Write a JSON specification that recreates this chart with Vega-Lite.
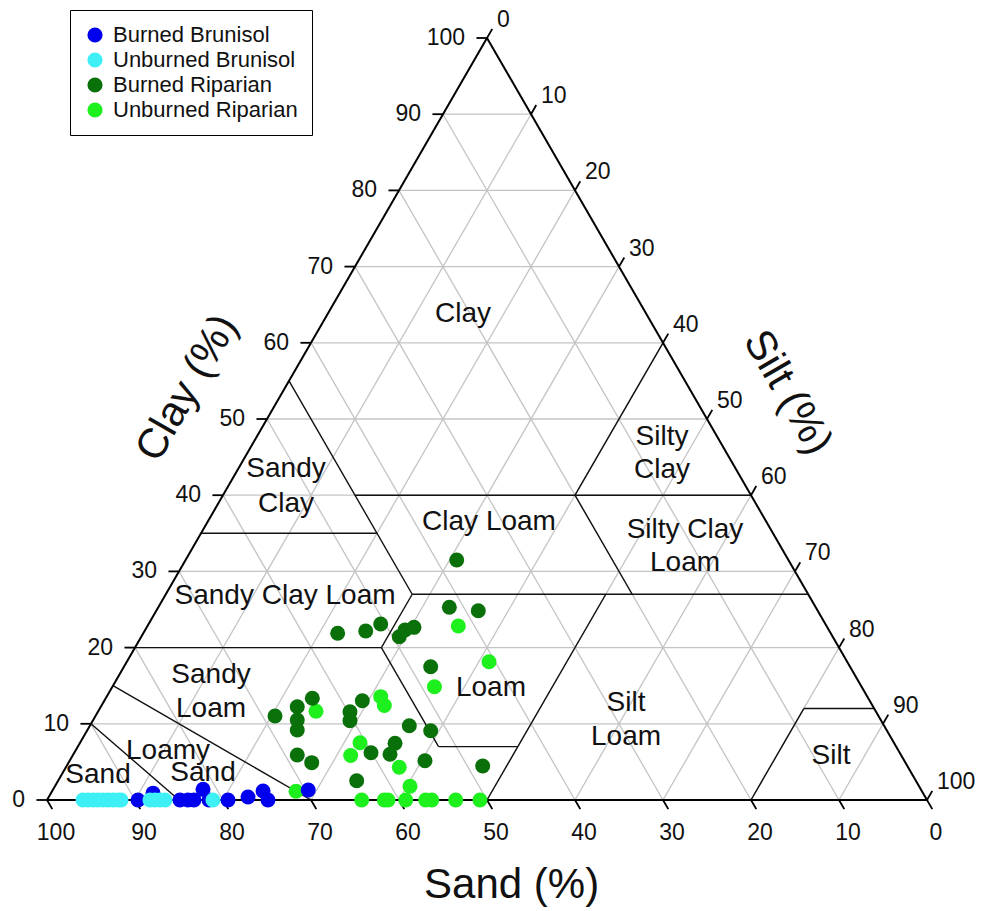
{
  "$schema": "https://vega.github.io/schema/vega-lite/v6.json",
  "width": 880,
  "height": 762,
  "autosize": "none",
  "padding": {"left": 47, "top": 38, "right": 55, "bottom": 111},
  "config": {
    "view": {"stroke": null},
    "font": "Liberation Sans",
    "text": {"font": "Liberation Sans"}
  },
  "datasets": {
    "grid": [
      {"x": 5, "y": 10, "x2": 95, "y2": 10},
      {"x": 10, "y": 20, "x2": 90, "y2": 20},
      {"x": 15, "y": 30, "x2": 85, "y2": 30},
      {"x": 20, "y": 40, "x2": 80, "y2": 40},
      {"x": 25, "y": 50, "x2": 75, "y2": 50},
      {"x": 30, "y": 60, "x2": 70, "y2": 60},
      {"x": 35, "y": 70, "x2": 65, "y2": 70},
      {"x": 40, "y": 80, "x2": 60, "y2": 80},
      {"x": 45, "y": 90, "x2": 55, "y2": 90},
      {"x": 90, "y": 0, "x2": 45, "y2": 90},
      {"x": 80, "y": 0, "x2": 40, "y2": 80},
      {"x": 70, "y": 0, "x2": 35, "y2": 70},
      {"x": 60, "y": 0, "x2": 30, "y2": 60},
      {"x": 50, "y": 0, "x2": 25, "y2": 50},
      {"x": 40, "y": 0, "x2": 20, "y2": 40},
      {"x": 30, "y": 0, "x2": 15, "y2": 30},
      {"x": 20, "y": 0, "x2": 10, "y2": 20},
      {"x": 10, "y": 0, "x2": 5, "y2": 10},
      {"x": 10, "y": 0, "x2": 55, "y2": 90},
      {"x": 20, "y": 0, "x2": 60, "y2": 80},
      {"x": 30, "y": 0, "x2": 65, "y2": 70},
      {"x": 40, "y": 0, "x2": 70, "y2": 60},
      {"x": 50, "y": 0, "x2": 75, "y2": 50},
      {"x": 60, "y": 0, "x2": 80, "y2": 40},
      {"x": 70, "y": 0, "x2": 85, "y2": 30},
      {"x": 80, "y": 0, "x2": 90, "y2": 20},
      {"x": 90, "y": 0, "x2": 95, "y2": 10}
    ],
    "bounds": [
      {"x": 15, "y": 0, "x2": 5, "y2": 10},
      {"x": 30, "y": 0, "x2": 7.5, "y2": 15},
      {"x": 10, "y": 20, "x2": 38, "y2": 20},
      {"x": 38, "y": 20, "x2": 44.5, "y2": 7},
      {"x": 44.5, "y": 7, "x2": 53.5, "y2": 7},
      {"x": 50, "y": 0, "x2": 63.5, "y2": 27},
      {"x": 38, "y": 20, "x2": 41.5, "y2": 27},
      {"x": 41.5, "y": 27, "x2": 86.5, "y2": 27},
      {"x": 41.5, "y": 27, "x2": 27.5, "y2": 55},
      {"x": 17.5, "y": 35, "x2": 37.5, "y2": 35},
      {"x": 35, "y": 40, "x2": 80, "y2": 40},
      {"x": 66.5, "y": 27, "x2": 60, "y2": 40},
      {"x": 60, "y": 40, "x2": 70, "y2": 60},
      {"x": 80, "y": 0, "x2": 86, "y2": 12},
      {"x": 86, "y": 12, "x2": 94, "y2": 12}
    ],
    "frame": [
      {"x": 0, "y": 0, "x2": 100, "y2": 0},
      {"x": 0, "y": 0, "x2": 50, "y2": 100},
      {"x": 100, "y": 0, "x2": 50, "y2": 100}
    ],
    "ticks": [
      {"x": 0, "y": 0, "x2": -1.2, "y2": 0},
      {"x": 5, "y": 10, "x2": 3.8, "y2": 10},
      {"x": 10, "y": 20, "x2": 8.8, "y2": 20},
      {"x": 15, "y": 30, "x2": 13.8, "y2": 30},
      {"x": 20, "y": 40, "x2": 18.8, "y2": 40},
      {"x": 25, "y": 50, "x2": 23.8, "y2": 50},
      {"x": 30, "y": 60, "x2": 28.8, "y2": 60},
      {"x": 35, "y": 70, "x2": 33.8, "y2": 70},
      {"x": 40, "y": 80, "x2": 38.8, "y2": 80},
      {"x": 45, "y": 90, "x2": 43.8, "y2": 90},
      {"x": 50, "y": 100, "x2": 48.8, "y2": 100},
      {"x": 0, "y": 0, "x2": 0.6, "y2": -1.2},
      {"x": 10, "y": 0, "x2": 10.6, "y2": -1.2},
      {"x": 20, "y": 0, "x2": 20.6, "y2": -1.2},
      {"x": 30, "y": 0, "x2": 30.6, "y2": -1.2},
      {"x": 40, "y": 0, "x2": 40.6, "y2": -1.2},
      {"x": 50, "y": 0, "x2": 50.6, "y2": -1.2},
      {"x": 60, "y": 0, "x2": 60.6, "y2": -1.2},
      {"x": 70, "y": 0, "x2": 70.6, "y2": -1.2},
      {"x": 80, "y": 0, "x2": 80.6, "y2": -1.2},
      {"x": 90, "y": 0, "x2": 90.6, "y2": -1.2},
      {"x": 100, "y": 0, "x2": 100.6, "y2": -1.2},
      {"x": 50, "y": 100, "x2": 50.6, "y2": 101.2},
      {"x": 55, "y": 90, "x2": 55.6, "y2": 91.2},
      {"x": 60, "y": 80, "x2": 60.6, "y2": 81.2},
      {"x": 65, "y": 70, "x2": 65.6, "y2": 71.2},
      {"x": 70, "y": 60, "x2": 70.6, "y2": 61.2},
      {"x": 75, "y": 50, "x2": 75.6, "y2": 51.2},
      {"x": 80, "y": 40, "x2": 80.6, "y2": 41.2},
      {"x": 85, "y": 30, "x2": 85.6, "y2": 31.2},
      {"x": 90, "y": 20, "x2": 90.6, "y2": 21.2},
      {"x": 95, "y": 10, "x2": 95.6, "y2": 11.2},
      {"x": 100, "y": 0, "x2": 100.6, "y2": 1.2}
    ],
    "ticklabels": [
      {"side": "left", "x": 0, "y": 0, "label": "0"},
      {"side": "left", "x": 5, "y": 10, "label": "10"},
      {"side": "left", "x": 10, "y": 20, "label": "20"},
      {"side": "left", "x": 15, "y": 30, "label": "30"},
      {"side": "left", "x": 20, "y": 40, "label": "40"},
      {"side": "left", "x": 25, "y": 50, "label": "50"},
      {"side": "left", "x": 30, "y": 60, "label": "60"},
      {"side": "left", "x": 35, "y": 70, "label": "70"},
      {"side": "left", "x": 40, "y": 80, "label": "80"},
      {"side": "left", "x": 45, "y": 90, "label": "90"},
      {"side": "left", "x": 50, "y": 100, "label": "100"},
      {"side": "bottom", "x": 0, "y": 0, "label": "100"},
      {"side": "bottom", "x": 10, "y": 0, "label": "90"},
      {"side": "bottom", "x": 20, "y": 0, "label": "80"},
      {"side": "bottom", "x": 30, "y": 0, "label": "70"},
      {"side": "bottom", "x": 40, "y": 0, "label": "60"},
      {"side": "bottom", "x": 50, "y": 0, "label": "50"},
      {"side": "bottom", "x": 60, "y": 0, "label": "40"},
      {"side": "bottom", "x": 70, "y": 0, "label": "30"},
      {"side": "bottom", "x": 80, "y": 0, "label": "20"},
      {"side": "bottom", "x": 90, "y": 0, "label": "10"},
      {"side": "bottom", "x": 100, "y": 0, "label": "0"},
      {"side": "right", "x": 50, "y": 100, "label": "0"},
      {"side": "right", "x": 55, "y": 90, "label": "10"},
      {"side": "right", "x": 60, "y": 80, "label": "20"},
      {"side": "right", "x": 65, "y": 70, "label": "30"},
      {"side": "right", "x": 70, "y": 60, "label": "40"},
      {"side": "right", "x": 75, "y": 50, "label": "50"},
      {"side": "right", "x": 80, "y": 40, "label": "60"},
      {"side": "right", "x": 85, "y": 30, "label": "70"},
      {"side": "right", "x": 90, "y": 20, "label": "80"},
      {"side": "right", "x": 95, "y": 10, "label": "90"},
      {"side": "right", "x": 100, "y": 0, "label": "100"}
    ],
    "regions": [
      {"x": 47.27, "y": 63.78, "label": "Clay"},
      {"x": 69.89, "y": 47.64, "label": "Silty"},
      {"x": 69.89, "y": 43.31, "label": "Clay"},
      {"x": 27.16, "y": 43.44, "label": "Sandy"},
      {"x": 27.16, "y": 38.85, "label": "Clay"},
      {"x": 50.23, "y": 36.42, "label": "Clay Loam"},
      {"x": 72.5, "y": 35.43, "label": "Silty Clay"},
      {"x": 72.5, "y": 31.1, "label": "Loam"},
      {"x": 27.05, "y": 26.77, "label": "Sandy Clay Loam"},
      {"x": 50.45, "y": 14.7, "label": "Loam"},
      {"x": 18.64, "y": 16.4, "label": "Sandy"},
      {"x": 18.64, "y": 11.94, "label": "Loam"},
      {"x": 65.8, "y": 12.73, "label": "Silt"},
      {"x": 65.8, "y": 8.27, "label": "Loam"},
      {"x": 13.75, "y": 6.43, "label": "Loamy"},
      {"x": 17.73, "y": 3.54, "label": "Sand"},
      {"x": 5.8, "y": 3.28, "label": "Sand"},
      {"x": 89.09, "y": 5.77, "label": "Silt"}
    ],
    "pts": [
      {"group": "Unburned Riparian", "x": 46.74, "y": 22.83},
      {"group": "Unburned Riparian", "x": 50.23, "y": 18.15},
      {"group": "Unburned Riparian", "x": 44.03, "y": 14.87},
      {"group": "Unburned Riparian", "x": 30.57, "y": 11.65},
      {"group": "Unburned Riparian", "x": 37.92, "y": 13.56},
      {"group": "Unburned Riparian", "x": 38.33, "y": 12.4},
      {"group": "Unburned Riparian", "x": 35.57, "y": 7.52},
      {"group": "Unburned Riparian", "x": 34.51, "y": 5.84},
      {"group": "Unburned Riparian", "x": 40.03, "y": 4.29},
      {"group": "Unburned Riparian", "x": 41.25, "y": 1.8},
      {"group": "Unburned Riparian", "x": 28.3, "y": 1.15},
      {"group": "Unburned Riparian", "x": 35.76, "y": 0},
      {"group": "Unburned Riparian", "x": 38.33, "y": 0},
      {"group": "Unburned Riparian", "x": 38.75, "y": 0},
      {"group": "Unburned Riparian", "x": 40.76, "y": 0},
      {"group": "Unburned Riparian", "x": 43.03, "y": 0},
      {"group": "Unburned Riparian", "x": 43.72, "y": 0},
      {"group": "Unburned Riparian", "x": 46.44, "y": 0},
      {"group": "Unburned Riparian", "x": 49.2, "y": 0},
      {"group": "Burned Riparian", "x": 46.56, "y": 31.5},
      {"group": "Burned Riparian", "x": 45.72, "y": 25.29},
      {"group": "Burned Riparian", "x": 49.01, "y": 24.84},
      {"group": "Burned Riparian", "x": 33.03, "y": 21.88},
      {"group": "Burned Riparian", "x": 36.22, "y": 22.18},
      {"group": "Burned Riparian", "x": 37.92, "y": 23.1},
      {"group": "Burned Riparian", "x": 40.03, "y": 21.43},
      {"group": "Burned Riparian", "x": 40.68, "y": 22.31},
      {"group": "Burned Riparian", "x": 41.7, "y": 22.66},
      {"group": "Burned Riparian", "x": 43.6, "y": 17.49},
      {"group": "Burned Riparian", "x": 30.15, "y": 13.35},
      {"group": "Burned Riparian", "x": 28.44, "y": 12.24},
      {"group": "Burned Riparian", "x": 25.91, "y": 11.02},
      {"group": "Burned Riparian", "x": 28.44, "y": 10.5},
      {"group": "Burned Riparian", "x": 28.44, "y": 9.19},
      {"group": "Burned Riparian", "x": 34.43, "y": 11.59},
      {"group": "Burned Riparian", "x": 35.83, "y": 13.03},
      {"group": "Burned Riparian", "x": 34.43, "y": 10.41},
      {"group": "Burned Riparian", "x": 28.44, "y": 5.91},
      {"group": "Burned Riparian", "x": 30.08, "y": 4.9},
      {"group": "Burned Riparian", "x": 41.17, "y": 9.75},
      {"group": "Burned Riparian", "x": 43.6, "y": 9.09},
      {"group": "Burned Riparian", "x": 36.82, "y": 6.21},
      {"group": "Burned Riparian", "x": 39.55, "y": 7.44},
      {"group": "Burned Riparian", "x": 38.98, "y": 6.0},
      {"group": "Burned Riparian", "x": 42.95, "y": 5.16},
      {"group": "Burned Riparian", "x": 49.51, "y": 4.46},
      {"group": "Burned Riparian", "x": 35.19, "y": 2.53},
      {"group": "Burned Brunisol", "x": 10.34, "y": 0},
      {"group": "Burned Brunisol", "x": 12.05, "y": 0.9},
      {"group": "Burned Brunisol", "x": 15.11, "y": 0},
      {"group": "Burned Brunisol", "x": 16.02, "y": 0},
      {"group": "Burned Brunisol", "x": 16.7, "y": 0},
      {"group": "Burned Brunisol", "x": 17.73, "y": 1.4},
      {"group": "Burned Brunisol", "x": 18.41, "y": 0},
      {"group": "Burned Brunisol", "x": 20.57, "y": 0},
      {"group": "Burned Brunisol", "x": 22.84, "y": 0.4},
      {"group": "Burned Brunisol", "x": 24.55, "y": 1.18},
      {"group": "Burned Brunisol", "x": 25.11, "y": 0},
      {"group": "Burned Brunisol", "x": 29.69, "y": 1.31},
      {"group": "Unburned Brunisol", "x": 4.09, "y": 0},
      {"group": "Unburned Brunisol", "x": 4.66, "y": 0},
      {"group": "Unburned Brunisol", "x": 5.23, "y": 0},
      {"group": "Unburned Brunisol", "x": 5.8, "y": 0},
      {"group": "Unburned Brunisol", "x": 6.36, "y": 0},
      {"group": "Unburned Brunisol", "x": 6.93, "y": 0},
      {"group": "Unburned Brunisol", "x": 7.5, "y": 0},
      {"group": "Unburned Brunisol", "x": 8.07, "y": 0},
      {"group": "Unburned Brunisol", "x": 8.41, "y": 0},
      {"group": "Unburned Brunisol", "x": 11.7, "y": 0},
      {"group": "Unburned Brunisol", "x": 12.27, "y": 0},
      {"group": "Unburned Brunisol", "x": 12.84, "y": 0},
      {"group": "Unburned Brunisol", "x": 13.41, "y": 0},
      {"group": "Unburned Brunisol", "x": 18.86, "y": 0}
    ]
  },
  "encoding": {
    "x": {"field": "x", "type": "quantitative", "scale": {"domain": [0, 100], "nice": false, "zero": false}, "axis": null},
    "y": {"field": "y", "type": "quantitative", "scale": {"domain": [0, 100], "nice": false, "zero": false}, "axis": null}
  },
  "layer": [
    {
      "data": {"name": "grid"},
      "mark": {"type": "rule", "color": "#c4c4c4", "strokeWidth": 1.3},
      "encoding": {"x2": {"field": "x2"}, "y2": {"field": "y2"}}
    },
    {
      "data": {"name": "bounds"},
      "mark": {"type": "rule", "color": "#111111", "strokeWidth": 1.4},
      "encoding": {"x2": {"field": "x2"}, "y2": {"field": "y2"}}
    },
    {
      "data": {"name": "frame"},
      "mark": {"type": "rule", "color": "#000000", "strokeWidth": 2},
      "encoding": {"x2": {"field": "x2"}, "y2": {"field": "y2"}}
    },
    {
      "data": {"name": "ticks"},
      "mark": {"type": "rule", "color": "#000000", "strokeWidth": 1.8},
      "encoding": {"x2": {"field": "x2"}, "y2": {"field": "y2"}}
    },
    {
      "data": {"name": "ticklabels"},
      "transform": [{"filter": "datum.side === 'left'"}],
      "mark": {"type": "text", "align": "right", "baseline": "middle", "dx": -22, "fontSize": 23, "color": "#111111"},
      "encoding": {"text": {"field": "label"}}
    },
    {
      "data": {"name": "ticklabels"},
      "transform": [{"filter": "datum.side === 'bottom'"}],
      "mark": {"type": "text", "align": "center", "baseline": "middle", "dx": 9, "dy": 33, "fontSize": 23, "color": "#111111"},
      "encoding": {"text": {"field": "label"}}
    },
    {
      "data": {"name": "ticklabels"},
      "transform": [{"filter": "datum.side === 'right'"}],
      "mark": {"type": "text", "align": "left", "baseline": "middle", "dx": 10, "dy": -18, "fontSize": 23, "color": "#111111"},
      "encoding": {"text": {"field": "label"}}
    },
    {
      "data": {"name": "regions"},
      "mark": {"type": "text", "align": "center", "baseline": "middle", "fontSize": 28, "color": "#111111"},
      "encoding": {"text": {"field": "label"}}
    },
    {
      "data": {"values": [{"x": 52.8, "y": -11.2, "label": "Sand (%)"}]},
      "mark": {"type": "text", "align": "center", "baseline": "middle", "fontSize": 42, "color": "#111111"},
      "encoding": {"text": {"field": "label"}}
    },
    {
      "data": {"values": [{"x": 15.9, "y": 54.1, "label": "Clay (%)"}]},
      "mark": {"type": "text", "align": "center", "baseline": "middle", "fontSize": 42, "angle": 300, "color": "#111111"},
      "encoding": {"text": {"field": "label"}}
    },
    {
      "data": {"values": [{"x": 84.2, "y": 53.5, "label": "Silt (%)"}]},
      "mark": {"type": "text", "align": "center", "baseline": "middle", "fontSize": 42, "angle": 60, "color": "#111111"},
      "encoding": {"text": {"field": "label"}}
    },
    {
      "data": {"name": "pts"},
      "mark": {"type": "point", "filled": true, "opacity": 1, "size": 225, "shape": "circle"},
      "encoding": {
        "color": {
          "field": "group",
          "type": "nominal",
          "scale": {
            "domain": ["Burned Brunisol", "Unburned Brunisol", "Burned Riparian", "Unburned Riparian"],
            "range": ["#0000ee", "#3ef0f6", "#0a700a", "#1ef01e"]
          },
          "legend": {
            "title": null,
            "orient": "none",
            "legendX": 23,
            "legendY": -28,
            "strokeColor": "#000000",
            "fillColor": "#ffffff",
            "padding": 14,
            "labelFontSize": 22,
            "labelLimit": 500,
            "labelFont": "Liberation Sans",
            "labelColor": "#111111",
            "symbolType": "circle",
            "symbolSize": 230,
            "symbolStrokeWidth": 0,
            "symbolOpacity": 1,
            "rowPadding": 3,
            "labelOffset": 7
          }
        }
      }
    }
  ]
}
